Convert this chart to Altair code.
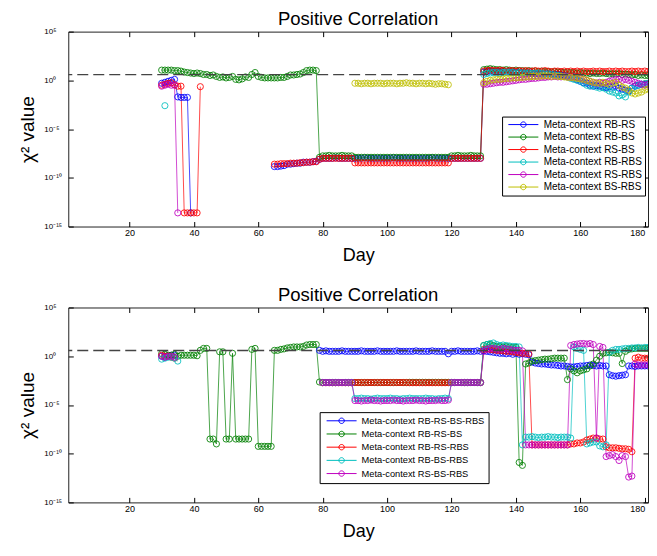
import altair as alt
import pandas as pd

# ---------------------------------------------------------------- text / style lists
TITLE = "Positive Correlation"
X_TITLE = "Day"
Y_TITLE = "χ² value"
X_DOMAIN = [1, 181]
X_TICKS = [20, 40, 60, 80, 100, 120, 140, 160, 180]
Y_EXP = [-15, -10, -5, 0, 5]
Y_TICK_TEXT = ["10⁻¹⁵", "10⁻¹⁰", "10⁻⁵", "10⁰", "10⁵"]
THRESHOLD = [3.84]

TOP_NAMES = ["Meta-context RB-RS", "Meta-context RB-BS", "Meta-context RS-BS",
             "Meta-context RB-RBS", "Meta-context RS-RBS", "Meta-context BS-RBS"]
TOP_COLORS = ["#0000FF", "#008000", "#FF0000", "#00BFBF", "#BF00BF", "#BFBF00"]
BOT_NAMES = ["Meta-context RB-RS-BS-RBS", "Meta-context RB-RS-BS", "Meta-context RB-RS-RBS",
             "Meta-context RB-BS-RBS", "Meta-context RS-BS-RBS"]
BOT_COLORS = ["#0000FF", "#008000", "#FF0000", "#00BFBF", "#BF00BF"]

# ---------------------------------------------------------------- data (log10 of chi^2)
# each series: list of connected segments; each segment: list of (first day, values)
TOP_RB_RS = [
    [(30, [-0.3, -0.2, -0.1, 0.0, 0.1, -1.7, -1.75, -1.75, -1.75, -13.6])],
    [(65, [-8.85, -8.85, -8.8, -8.75, -8.6, -8.6, -8.55, -8.5, -8.5, -8.4, -8.4, -8.4, -8.35, -8.3, -8.1]),
     (80, [-8.0, -8.0, -8.0, -8.0, -7.95, -8.0, -8.0, -8.0, -8.0, -8.0]),
     (90, [-8.0, -8.0, -8.0, -7.95, -8.0, -8.0, -8.0, -8.0, -8.0, -8.0,
           -8.0, -8.0, -7.95, -8.0, -8.0, -8.0, -8.0, -8.0, -8.0, -8.0,
           -8.0, -8.0, -8.0, -8.0, -7.95, -8.0, -8.0, -8.0, -8.0, -8.0]),
     (120, [-8.0, -8.0, -8.0, -8.0, -8.0, -8.0, -8.0, -8.0, -8.0, -8.0]),
     (130, [0.85, 0.9, 0.95, 0.9, 0.95, 0.9, 0.9, 0.85, 0.9, 0.85,
            0.85, 0.8, 0.8, 0.75, 0.8, 0.75, 0.7, 0.7, 0.7, 0.65]),
     (150, [0.7, 0.65, 0.6, 0.6, 0.55, 0.5, 0.45, 0.35, 0.2, 0.05,
            -0.1, -0.25, -0.3, -0.5, -0.6, -0.55, -0.6, -0.7, -0.75, -0.65]),
     (170, [-0.7, -0.6, -0.8, -0.9, -1.0, -1.1, -0.8, -0.6, -0.5, -0.4, -0.45, -0.4])],
]
TOP_RB_BS = [
    [(30, [1.05, 1.05, 1.05, 1.05, 1.0, 1.0, 0.95, 0.85, 0.8, 0.75]),
     (40, [0.7, 0.75, 0.7, 0.6, 0.6, 0.5, 0.55, 0.4, 0.3, 0.35]),
     (50, [0.25, 0.3, 0.4, 0.1, 0.05, 0.15, 0.35, 0.3, 0.6, 0.8]),
     (60, [0.4, 0.3, 0.25, 0.25, 0.25, 0.25, 0.25, 0.3, 0.3, 0.4]),
     (70, [0.55, 0.55, 0.6, 0.65, 0.8, 1.0, 1.05, 1.05, 1.0, -7.9]),
     (80, [-7.75, -7.75, -7.7, -7.75, -7.75, -7.75, -7.7, -7.75, -7.75, -7.75]),
     (90, [-7.9, -7.9, -7.9, -7.9, -7.9, -7.9, -7.9, -7.9, -7.9, -7.9,
           -7.9, -7.9, -7.9, -7.9, -7.9, -7.9, -7.9, -7.9, -7.9, -7.9,
           -7.9, -7.9, -7.9, -7.9, -7.9, -7.9, -7.9, -7.9, -7.9, -7.9]),
     (120, [-7.75, -7.75, -7.7, -7.75, -7.75, -7.75, -7.7, -7.75, -7.75, -7.75]),
     (130, [1.1, 1.15, 1.2, 1.15, 1.1, 1.1, 1.05, 1.1, 1.05, 1.0,
            1.05, 1.0, 1.0, 0.95, 1.0, 0.95, 0.95, 0.9, 0.95, 0.9]),
     (150, [0.9, 0.85, 0.9, 0.85, 0.85, 0.8, 0.85, 0.8, 0.8, 0.75,
            0.8, 0.75, 0.75, 0.7, 0.75, 0.7, 0.7, 0.75, 0.7, 0.65]),
     (170, [0.7, 0.65, 0.7, 0.6, 0.65, 0.6, 0.55, 0.6, 0.5, 0.55, 0.5, 0.5])],
]
TOP_RS_BS = [
    [(30, [-0.5, -0.4, -0.3, -0.25, -0.45, -0.6, -0.6, -13.6, -13.6, -13.6, -13.6, -13.6, -0.65])],
    [(65, [-8.6, -8.6, -8.55, -8.55, -8.55, -8.5, -8.5, -8.5, -8.45, -8.45, -8.4, -8.4, -8.35, -8.35, -8.1]),
     (80, [-8.0, -8.0, -8.0, -8.0, -8.0, -8.0, -8.0, -8.0, -8.0, -8.0]),
     (90, [-8.47, -8.47, -8.47, -8.47, -8.47, -8.47, -8.47, -8.47, -8.47, -8.47,
           -8.47, -8.47, -8.47, -8.47, -8.47, -8.47, -8.47, -8.47, -8.47, -8.47,
           -8.47, -8.47, -8.47, -8.47, -8.47, -8.47, -8.47, -8.47, -8.47, -8.47]),
     (120, [-8.0, -8.0, -8.0, -8.0, -8.0, -8.0, -8.0, -8.0, -8.0, -8.0]),
     (130, [0.95, 1.0, 1.05, 1.0, 1.0, 1.05, 1.0, 0.95, 1.0, 1.0,
            0.95, 1.0, 0.95, 1.0, 0.95, 0.95, 1.0, 0.95, 0.95, 1.0]),
     (150, [0.95, 0.9, 0.95, 0.95, 0.9, 0.95, 0.9, 0.95, 0.9, 0.95,
            0.9, 0.95, 0.9, 0.9, 0.95, 0.9, 0.95, 0.9, 0.9, 0.95]),
     (170, [0.9, 0.95, 0.9, 0.95, 0.9, 0.9, 0.95, 0.9, 0.95, 0.9, 0.95, 0.9])],
]
TOP_RB_RBS = [
    [(31, [-2.6])],
    [(130, [0.6, 0.7, 0.75, 0.8, 0.8, 0.75, 0.8, 0.85, 0.8, 0.8,
            0.75, 0.8, 0.75, 0.7, 0.75, 0.7, 0.7, 0.75, 0.7, 0.65]),
     (150, [0.65, 0.6, 0.55, 0.5, 0.45, 0.4, 0.35, 0.2, 0.1, 0.0,
            -0.1, -0.3, -0.5, -0.6, -0.55, -0.7, -0.8, -0.75, -0.9, -1.1]),
     (170, [-1.2, -1.3, -1.6, -1.5, -1.7, -1.2, -0.8, -0.6, -0.5, -0.4, -0.35, -0.3])],
]
TOP_RS_RBS = [
    [(30, [-0.6, -0.5, -0.4, -0.5, -0.5, -13.6])],
    [(130, [-0.4, -0.4, -0.35, -0.3, -0.25, -0.2, -0.2, -0.15, -0.1, -0.05,
            0.0, 0.05, 0.1, 0.1, 0.15, 0.2, 0.2, 0.25, 0.3, 0.3]),
     (150, [0.35, 0.35, 0.4, 0.35, 0.35, 0.4, 0.35, 0.3, 0.35, 0.3,
            0.2, 0.1, 0.0, -0.1, -0.2, -0.3, -0.2, -0.3, -0.2, -0.1]),
     (170, [0.0, 0.1, 0.1, 0.0, 0.1, 0.0, -0.1, -0.2, -0.3, -0.4, -0.5, -0.4])],
]
TOP_BS_RBS = [
    [(90, [-0.3, -0.3, -0.35, -0.3, -0.3, -0.35, -0.3, -0.3, -0.3, -0.35,
           -0.3, -0.3, -0.3, -0.35, -0.3, -0.3, -0.25, -0.3, -0.3, -0.35,
           -0.3, -0.3, -0.35, -0.3, -0.35, -0.4, -0.35, -0.35, -0.4, -0.45])],
    [(130, [-0.25, -0.1, 0.0, 0.05, 0.1, 0.1, 0.15, 0.2, 0.2, 0.25,
            0.25, 0.3, 0.3, 0.35, 0.35, 0.4, 0.4, 0.4, 0.45, 0.45]),
     (150, [0.45, 0.4, 0.45, 0.4, 0.4, 0.35, 0.3, 0.3, 0.25, 0.2,
            0.15, 0.1, 0.0, -0.1, -0.2, -0.25, -0.3, -0.2, -0.3, -0.4]),
     (170, [-0.3, -0.2, -0.5, -0.7, -0.8, -1.0, -1.3, -1.4, -1.3, -1.2, -1.0, -0.9])],
]

BOT_ALL = [
    [(30, [0.0, -0.1, 0.0, 0.1, 0.1])],
    [(79, [0.6]),
     (80, [0.5, 0.55, 0.5, 0.5, 0.5, 0.5, 0.55, 0.5, 0.5, 0.5]),
     (90, [0.5, 0.5, 0.55, 0.5, 0.5, 0.5, 0.5, 0.55, 0.5, 0.5,
           0.5, 0.5, 0.5, 0.55, 0.5, 0.5, 0.5, 0.5, 0.5, 0.55,
           0.5, 0.5, 0.5, 0.5, 0.55, 0.5, 0.5, 0.5, 0.5, 0.25]),
     (120, [0.5, 0.5, 0.55, 0.5, 0.5, 0.5, 0.5, 0.5, 0.55, 0.5]),
     (130, [0.55, 0.5, 0.45, 0.4, 0.35, 0.3, 0.3, 0.25, 0.3, 0.2, 0.3, 0.2, 0.25, 0.2, 0.15]),
     (145, [-0.6, -0.7, -0.75, -0.8, -0.8, -0.85, -0.9, -0.9, -0.95, -1.0, -1.0, -1.05]),
     (157, [-1.1, -1.1, -1.05, -1.0, -1.0, -0.95, -0.9, -0.95, -1.0, -0.95, -1.0, -1.0]),
     (169, [-1.9, -2.0, -2.05, -2.0, -1.95, -1.9]),
     (175, [-1.0, -1.0, -1.05, -1.0, -1.0, -1.0, -1.0])],
]
BOT_RB_RS_BS = [
    [(30, [0.27, 0.2, 0.1, 0.1, 0.2, 0.0, 0.1, 0.1, 0.1, 0.1, 0.1, 0.05]),
     (42, [0.6, 0.8, 0.8, -8.5, -8.5, -9.0, 0.45, 0.45, -8.5, -8.5, 0.3,
           -8.5, -8.5, -8.5, -8.5, -8.5, 0.7, 0.8, -9.25, -9.25, -9.25, -9.25, -9.25]),
     (65, [0.6, 0.6, 0.7, 0.75, 0.85, 0.9, 0.95, 0.95, 0.95, 1.0, 1.15, 1.2, 1.2, 1.2]),
     (79, [-2.65]),
     (80, [-2.7, -2.7, -2.7, -2.7, -2.7, -2.7, -2.7, -2.7, -2.7, -2.7]),
     (90, [-2.7, -2.7, -2.7, -2.7, -2.7, -2.7, -2.7, -2.7, -2.7, -2.7,
           -2.7, -2.7, -2.7, -2.7, -2.7, -2.7, -2.7, -2.68, -2.68, -2.68,
           -2.68, -2.68, -2.68, -2.68, -2.68, -2.68, -2.68, -2.68, -2.68, -2.68]),
     (120, [-2.7, -2.7, -2.7, -2.7, -2.7, -2.7, -2.7, -2.7, -2.7, -2.7]),
     (130, [1.1, 1.2, 1.2, 1.1, 1.0, 1.0, 0.95, 1.0, 0.95, 0.9, 0.9]),
     (141, [-10.9, -11.2, -0.8, -0.7]),
     (145, [-0.5, -0.45, -0.4, -0.35, -0.3, -0.3, -0.25, -0.2, -0.2, -0.2, -0.2]),
     (156, [-2.4]),
     (157, [-1.3, -1.5, -1.7, -1.5, -1.4, -1.3, -1.0, -0.8, -0.4, 0.0, 0.3, 0.35, 0.4, 0.35, 0.3, 0.3]),
     (173, [-0.75, 0.5, 0.7, 0.75, 0.8, 0.8, 0.8, 0.8, 0.8])],
]
BOT_RB_RS_RBS = [
    [(30, [0.1, 0.0, 0.0, -0.1, -0.2])],
    [(80, [-2.72, -2.72, -2.72, -2.72, -2.72, -2.72, -2.72, -2.72, -2.72, -2.72]),
     (90, [-2.7, -2.7, -2.7, -2.7, -2.7, -2.7, -2.7, -2.7, -2.7, -2.7,
           -2.7, -2.7, -2.7, -2.7, -2.7, -2.7, -2.7, -2.72, -2.72, -2.72,
           -2.72, -2.72, -2.72, -2.72, -2.72, -2.72, -2.72, -2.72, -2.72, -2.72]),
     (120, [-2.7, -2.7, -2.7, -2.7, -2.7, -2.7, -2.7, -2.7, -2.7, -2.7]),
     (130, [0.7, 0.75, 0.7, 0.65, 0.6, 0.6, 0.55, 0.5, 0.5, 0.45, 0.4, 0.35, 0.3, 0.3, 0.25]),
     (145, [-9.1, -9.1, -9.1, -9.1, -9.1, -9.1, -9.1, -9.1, -9.1, -9.1, -9.1, -9.1,
            -9.0, -9.0, -8.9, -8.9]),
     (161, [-8.8, -8.6, -8.5, -8.4, -8.4, -8.5, -8.5]),
     (168, [-9.3, -9.4, -9.4, -9.4, -9.45, -9.5, -9.5, -9.55, -9.8]),
     (177, [-0.2, -0.1, -0.2, -0.2, -0.2])],
]
BOT_RB_BS_RBS = [
    [(30, [-0.3, -0.2, -0.1, -0.1, -0.2, -0.5])],
    [(80, [-2.7, -2.7, -2.7, -2.7, -2.7, -2.7, -2.7, -2.7, -2.7, -2.7]),
     (90, [-4.35, -4.35, -4.3, -4.35, -4.35, -4.4, -4.35, -4.3, -4.35, -4.35,
           -4.35, -4.3, -4.35, -4.35, -4.4, -4.35, -4.35, -4.3, -4.35, -4.35,
           -4.35, -4.35, -4.3, -4.35, -4.35, -4.4, -4.35, -4.35, -4.3, -4.35]),
     (120, [-2.7, -2.7, -2.7, -2.7, -2.7, -2.7, -2.7, -2.7, -2.7, -2.7]),
     (130, [1.1, 1.2, 1.3, 1.36, 1.2, 1.1, 1.15, 1.1, 1.05, 1.0, 1.0, 0.95]),
     (142, [-9.1, -8.3, -8.3, -8.25, -8.3, -8.35, -8.3, -8.3, -8.25, -8.3, -8.3, -8.35,
            -8.3, -8.3, -8.3, -8.4]),
     (158, [0.95, 0.8, 0.7, 0.6]),
     (162, [-9.0, -8.9, -8.8, -8.8, -9.2, -9.3, -9.1]),
     (169, [0.4, 0.6, 0.7, 0.7, 0.75, 0.8, 0.8, 0.85, 0.85, 0.9, 0.85, 0.9, 0.9])],
]
BOT_RS_BS_RBS = [
    [(30, [0.0, -0.1, 0.0, 0.0, -0.1])],
    [(80, [-2.7, -2.7, -2.7, -2.7, -2.7, -2.7, -2.7, -2.7, -2.7, -2.7]),
     (90, [-4.55, -4.55, -4.6, -4.55, -4.55, -4.5, -4.55, -4.55, -4.6, -4.55,
           -4.55, -4.55, -4.5, -4.55, -4.55, -4.6, -4.55, -4.55, -4.55, -4.5,
           -4.55, -4.55, -4.6, -4.55, -4.55, -4.55, -4.5, -4.55, -4.55, -4.5]),
     (120, [-2.7, -2.7, -2.7, -2.7, -2.7, -2.7, -2.7, -2.7, -2.7, -2.7]),
     (130, [0.5, 0.7, 0.8, 0.8, 0.75, 0.7, 0.8, 0.75, 0.7, 0.65, 0.6, 0.6, 0.55]),
     (143, [-9.1, -9.1, -9.1, -9.1, -9.1, -9.1, -9.1, -9.1, -9.1, -9.1, -9.1, -9.1, -9.1, -9.1]),
     (157, [1.1, 1.2, 1.25, 1.3, 1.3, 1.25, 1.3, 1.2, -8.4, 1.0, 0.9]),
     (168, [-10.3, -10.2, -10.1, -10.3, -10.7, -10.2, -10.3, -12.4, -12.3]),
     (177, [-0.8, -0.9, -0.9, -0.9, -0.9])],
]

TOP_SERIES = [TOP_RB_RS, TOP_RB_BS, TOP_RS_BS, TOP_RB_RBS, TOP_RS_RBS, TOP_BS_RBS]
BOT_SERIES = [BOT_ALL, BOT_RB_RS_BS, BOT_RB_RS_RBS, BOT_RB_BS_RBS, BOT_RS_BS_RBS]


def to_frame(names, series):
    rows = []
    for k, (name, segs) in enumerate(zip(names, series)):
        for s, pieces in enumerate(segs):
            for start, vals in pieces:
                for i, v in enumerate(vals):
                    rows.append({"day": start + i, "chi2": 10.0 ** v,
                                 "series": name, "seg": f"{k}-{s}", "k": k})
    return pd.DataFrame(rows)


FONT = "Liberation Sans"
W, H = 580, 195
SYMBOL_PATH = "M-0.68,0H11.32M6.4,0A1.08,1.08 0 1,1 4.24,0A1.08,1.08 0 1,1 6.4,0"

label_expr = ""
for e, t in zip(Y_EXP, Y_TICK_TEXT):
    label_expr += f"abs(log(datum.value)/LN10 - ({e})) < 0.5 ? '{t}' : "
label_expr += "''"
Y_TICKS = [10.0 ** e for e in Y_EXP]


def panel(names, colors, series, lx, ly, lfs, rowpad, pad):
    df = to_frame(names, series)
    xs = alt.Scale(domain=X_DOMAIN, nice=False, zero=False)
    ys = alt.Scale(type="log", domain=[Y_TICKS[0], Y_TICKS[-1]], nice=False)
    legend = alt.Legend(title=None, orient="none", legendX=lx, legendY=ly,
                        symbolType=SYMBOL_PATH, symbolSize=25, symbolStrokeWidth=1,
                        symbolFillColor="transparent", symbolOpacity=1,
                        labelFont=FONT, labelFontSize=lfs, labelColor="black",
                        labelOffset=28.6, padding=pad, rowPadding=rowpad,
                        strokeColor="black", fillColor="white", labelLimit=300,
                        cornerRadius=0)
    color = alt.Color("series:N", scale=alt.Scale(domain=names, range=colors),
                      legend=legend, sort=names)
    x_bottom = alt.Axis(orient="bottom", values=X_TICKS, offset=-5, tickSize=5, domain=False,
                        grid=False, labelFontSize=9, labelFont=FONT, labelColor="black",
                        tickColor="black", labelPadding=2, labelFlush=5,
                        title=X_TITLE, titleFontSize=18, titleFont=FONT,
                        titleFontWeight="normal", titleColor="black", titlePadding=9)
    y_left = alt.Axis(orient="left", values=Y_TICKS, offset=-5, tickSize=5, domain=False,
                      grid=False, labelExpr=label_expr, labelAlign="left",
                      labelBaseline="middle", labelPadding=24.5, labelFontSize=8,
                      labelFont=FONT, labelColor="black", tickColor="black",
                      title=Y_TITLE, titleFontSize=19, titleFont=FONT,
                      titleFontWeight="normal", titleColor="black", titlePadding=6)
    x_top = alt.Axis(orient="top", values=X_TICKS, offset=-5, tickSize=5, domain=False,
                     grid=False, labels=False, title=None, tickColor="black")
    y_right = alt.Axis(orient="right", values=Y_TICKS, offset=-5, tickSize=5, domain=False,
                       grid=False, labels=False, title=None, tickColor="black")
    lines = alt.Chart(df).mark_line(strokeWidth=1, opacity=0.7, clip=True).encode(
        x=alt.X("day:Q", scale=xs, axis=x_bottom),
        y=alt.Y("chi2:Q", scale=ys, axis=y_left),
        color=color, detail="seg:N")
    points = alt.Chart(df).mark_point(shape="circle", filled=False, size=38, strokeWidth=1,
                                      opacity=0.85, clip=True).encode(
        x=alt.X("day:Q", scale=xs, axis=x_top),
        y=alt.Y("chi2:Q", scale=ys, axis=y_right),
        color=color)
    thr = alt.Chart(pd.DataFrame({"t": THRESHOLD})).mark_rule(
        color="#444444", strokeWidth=1.3, strokeDash=[11, 5]).encode(
        y=alt.Y("t:Q", scale=ys, axis=None))
    return alt.layer(lines, points, thr).resolve_axis(x="independent", y="independent").properties(
        width=W, height=H,
        title=alt.TitleParams(TITLE, fontSize=18.5, font=FONT, fontWeight="normal",
                              color="black", offset=-1, anchor="middle"))


top = panel(TOP_NAMES, TOP_COLORS, TOP_SERIES, 434, 85, 10, 2.5, 3)
bottom = panel(BOT_NAMES, BOT_COLORS, BOT_SERIES, 251.5, 104.7, 9.3, 2.2, 4)

chart = alt.vconcat(top, bottom, spacing=20).resolve_scale(color="independent").properties(
    padding={"left": 10.3, "top": 1.5, "right": -1, "bottom": 0}
).configure_view(stroke="#222222", strokeWidth=1)

chart.save("out.html", embed_options={"renderer": "svg", "actions": False})
